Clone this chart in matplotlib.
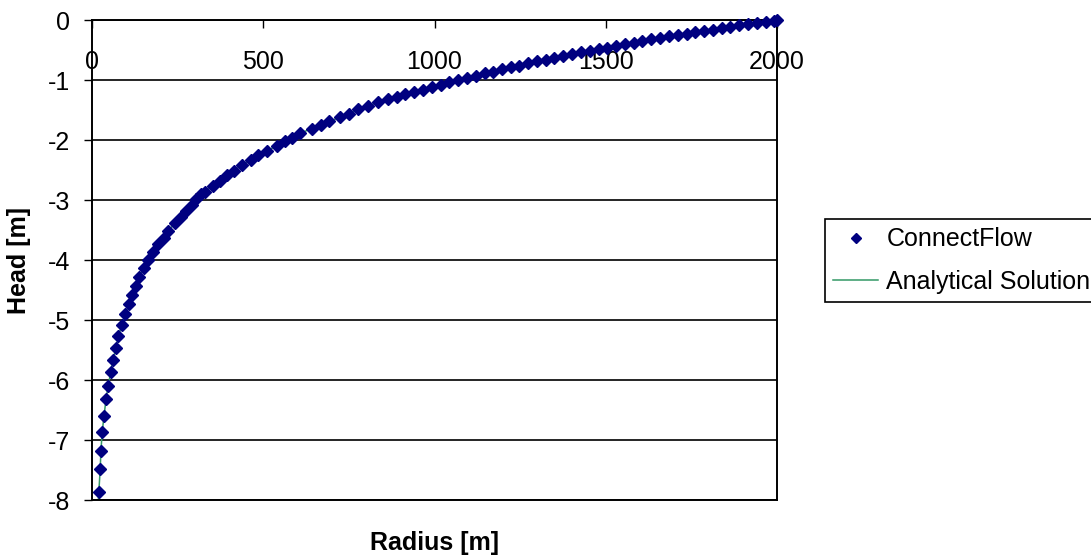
import matplotlib
matplotlib.use('Agg')
import matplotlib.pyplot as plt
from matplotlib.lines import Line2D

plt.rcParams['font.family'] = ['Liberation Sans', 'DejaVu Sans']
plt.rcParams['axes.unicode_minus'] = False

# ConnectFlow results (radius in m, head in m)
radius = [20, 24, 26, 30, 35, 41, 47, 55, 61, 70, 77, 87, 97, 108,
          118, 128, 138, 153, 163, 178, 194, 209, 223, 242, 260, 275, 293, 305, 318,
          330, 352, 374, 393, 415, 437, 463, 485, 510, 539, 563, 585, 607, 641, 668,
          693, 724, 750, 778, 807, 836, 865, 890,
          915, 940, 965, 992, 1018, 1043, 1068, 1094, 1120, 1146, 1171, 1196, 1222,
          1248, 1273, 1299, 1325, 1350, 1376, 1402, 1428, 1453, 1479, 1505, 1530,
          1556, 1582, 1607, 1633, 1659, 1684, 1710, 1736, 1761, 1787, 1813, 1838,
          1864, 1890, 1915, 1941, 1967, 1992, 2000]
head = [-7.86, -7.48, -7.18, -6.86, -6.60, -6.32, -6.10, -5.86, -5.67, -5.46, -5.27, -5.08, -4.90, -4.73,
        -4.58, -4.43, -4.28, -4.13, -4.00, -3.87, -3.74, -3.63, -3.51, -3.39, -3.29, -3.18, -3.08, -2.99, -2.90,
        -2.86, -2.77, -2.68, -2.59, -2.51, -2.42, -2.33, -2.25, -2.18, -2.10, -2.02, -1.96, -1.89, -1.81, -1.75,
        -1.69, -1.62, -1.57, -1.49, -1.43, -1.37, -1.32, -1.28,
        -1.24, -1.20, -1.16, -1.12, -1.08, -1.04, -1.00, -0.96, -0.93, -0.89, -0.86, -0.82, -0.79,
        -0.76, -0.72, -0.69, -0.66, -0.63, -0.60, -0.57, -0.54, -0.51, -0.48, -0.46, -0.43,
        -0.40, -0.38, -0.35, -0.32, -0.30, -0.27, -0.25, -0.23, -0.20, -0.18, -0.16, -0.14,
        -0.11, -0.09, -0.07, -0.05, -0.03, -0.01, 0.00]

# Analytical solution: starts just below the axis and follows the same nodes
analytical_start_radius = [18]
analytical_start_head = [-8.05]
analytical_radius = analytical_start_radius + radius
analytical_head = analytical_start_head + head

x_ticks = [0, 500, 1000, 1500, 2000]
y_ticks = [0, -1, -2, -3, -4, -5, -6, -7, -8]

W, H = 1091, 558
fig = plt.figure(figsize=(W / 100, H / 100), dpi=100)
ax = fig.add_axes([92 / W, (H - 500) / H, 685 / W, 480 / H])
ax.set_xlim(0, 2000)
ax.set_ylim(-8, 0)

ax.plot(analytical_radius, analytical_head, color='#339966', lw=1.1, zorder=2)
ax.plot(radius, head, ls='none', marker='D', ms=6.5, color='#000080',
        mec='#000080', zorder=3, clip_on=False)

ax.set_xticks(x_ticks)
ax.set_yticks(y_ticks)
ax.set_yticklabels([str(v) for v in y_ticks])
ax.yaxis.grid(True, color='black', lw=1.2)
ax.set_axisbelow(True)

for s in ax.spines.values():
    s.set_color('black')
    s.set_linewidth(1.4)

ax.xaxis.set_ticks_position('top')
ax.tick_params(axis='x', direction='in', length=6, width=1, top=True, bottom=False,
               labeltop=True, labelbottom=False, pad=-39, labelsize=18, colors='black')
ax.tick_params(axis='y', direction='out', length=5.5, width=1, pad=10, labelsize=18,
               colors='black')

ax.set_xlabel('Radius [m]', fontsize=18, fontweight='bold')
ax.xaxis.set_label_coords(0.5, (500 - 543) / 480)
ax.xaxis.label.set_va('center')
ax.set_ylabel('Head [m]', fontsize=18, fontweight='bold')
ax.yaxis.set_label_coords((19 - 92) / 685, 0.5)
ax.yaxis.label.set_va('center')

h_cf = Line2D([], [], ls='none', marker='D', ms=5, color='#000080', mec='#000080')
h_an = Line2D([], [], color='#339966', lw=1.1)
leg = fig.legend([h_cf, h_an], ['ConnectFlow', 'Analytical Solution'],
                 loc='upper left', bbox_to_anchor=(825 / W, 1 - 219 / H),
                 fontsize=18, frameon=True, fancybox=False, edgecolor='black',
                 framealpha=1, borderpad=0.33, handlelength=1.8, handletextpad=0.32,
                 labelspacing=0.75, numpoints=1, borderaxespad=0)
leg.get_frame().set_linewidth(1.2)

fig.savefig('out.png', dpi=100)
